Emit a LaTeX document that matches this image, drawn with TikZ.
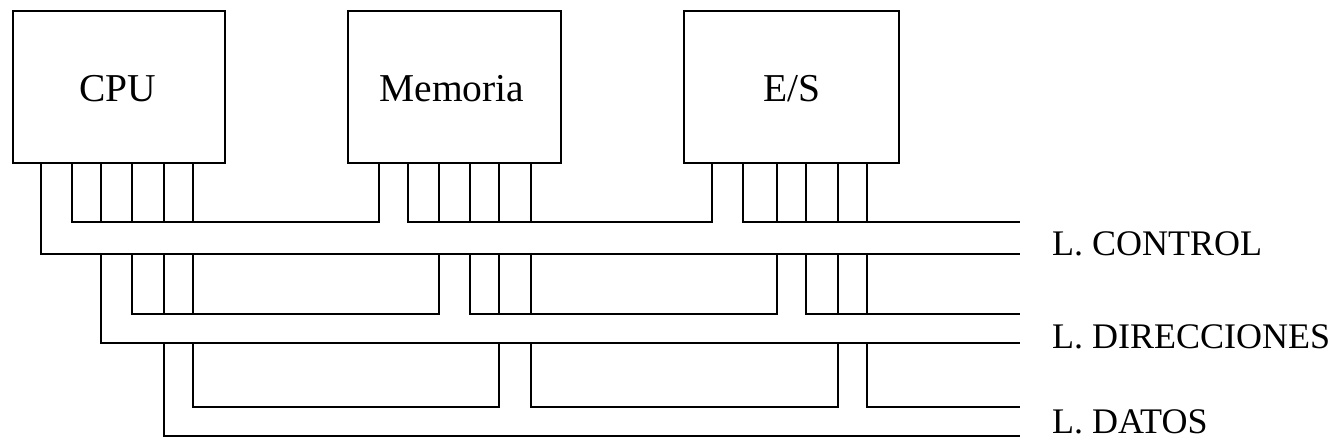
\documentclass[tikz,border=0pt]{standalone}
\usepackage{fontspec}
\setmainfont{Liberation Serif}
\begin{document}
\begin{tikzpicture}[x=1pt,y=-1pt,
  wire/.style={line width=2pt,line join=miter,line cap=butt},
  unit/.style={draw,line width=2pt,rectangle,inner sep=0pt,anchor=north west},
  unitlabel/.style={anchor=base,inner sep=0pt,font=\fontsize{39.5}{40}\selectfont},
  buslabel/.style={anchor=base west,inner sep=0pt,font=\fontsize{36}{38}\selectfont}]
\useasboundingbox (0,0) rectangle (1332,445);
% units
\node[unit,minimum width=212pt,minimum height=152pt] (cpu) at (12,10) {};
\node[unit,minimum width=213pt,minimum height=152pt] (mem) at (347,10) {};
\node[unit,minimum width=215pt,minimum height=152pt] (es)  at (683,10) {};
\node[unitlabel] (tcpu) at (118,101) {CPU};
\node[unitlabel] (tmem) at (452,101.5) {Memoria};
\node[unitlabel] (tes)  at (792,101.5) {E/S};
% bus labels
\node[buslabel] (lc) at (1052,255) {L. CONTROL};
\node[buslabel] (ld) at (1052,348) {L. DIRECCIONES};
\node[buslabel] (lt) at (1052,433) {L. DATOS};
% control band (lines A=222, B=254)
\draw[wire] (41,162) -- (41,254) -- (1020,254);
\draw[wire] (72,162) -- (72,222) -- (379,222) -- (379,162);
\foreach \x in {101,132,164,193} \draw[wire] (\x,162) -- (\x,222);
\draw[wire] (408,162) -- (408,222) -- (712,222) -- (712,162);
\foreach \x in {439,470,499,531} \draw[wire] (\x,162) -- (\x,222);
\draw[wire] (743,162) -- (743,222) -- (1020,222);
\foreach \x in {777,806,838,867} \draw[wire] (\x,162) -- (\x,222);
% address band (lines C=314, D=343)
\draw[wire] (101,254) -- (101,343) -- (1020,343);
\draw[wire] (132,254) -- (132,314) -- (439,314) -- (439,254);
\foreach \x in {164,193} \draw[wire] (\x,254) -- (\x,314);
\draw[wire] (470,254) -- (470,314) -- (777,314) -- (777,254);
\foreach \x in {499,531} \draw[wire] (\x,254) -- (\x,314);
\draw[wire] (806,254) -- (806,314) -- (1020,314);
\foreach \x in {838,867} \draw[wire] (\x,254) -- (\x,314);
% data band (lines E=407, F=436)
\draw[wire] (164,343) -- (164,436) -- (1020,436);
\draw[wire] (193,343) -- (193,407) -- (499,407) -- (499,343);
\draw[wire] (531,343) -- (531,407) -- (838,407) -- (838,343);
\draw[wire] (867,343) -- (867,407) -- (1020,407);
\end{tikzpicture}
\end{document}
